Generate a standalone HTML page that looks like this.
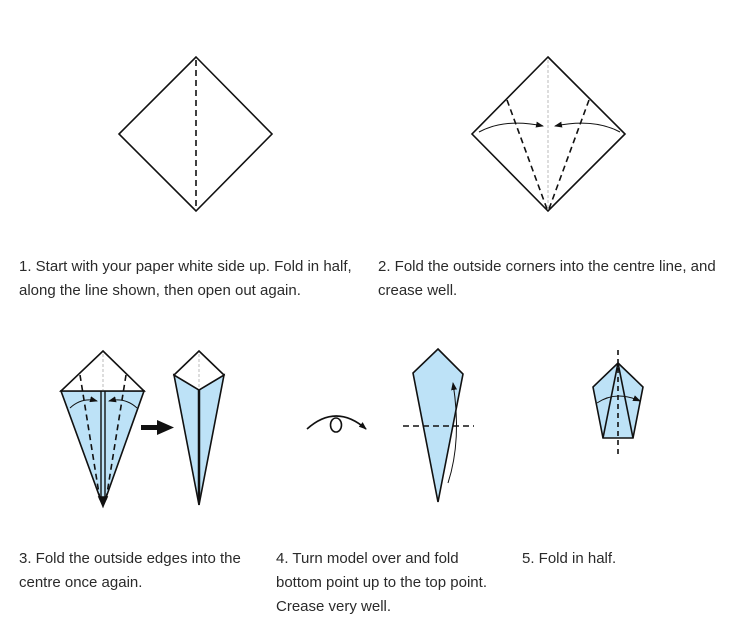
<!DOCTYPE html>
<html><head><meta charset="utf-8"><style>
body{margin:0;background:#fff;width:731px;height:636px;overflow:hidden;position:relative;font-family:"Liberation Sans",sans-serif}
.t{position:absolute;font-size:15px;line-height:24px;color:#2a2a2a;white-space:nowrap}
svg{position:absolute;left:0;top:0}
</style></head><body>
<svg width="731" height="636">
<defs><marker id="ah" markerWidth="8" markerHeight="6" refX="7" refY="3" orient="auto" markerUnits="userSpaceOnUse"><path d="M0,0 L8,3 L0,6 Z" fill="#111"/></marker></defs>
<g stroke="#111" stroke-width="1.6" fill="none">
<polygon points="196,57 272,134 196,211 119,134" fill="#fff"/>
<line x1="196" y1="60" x2="196" y2="209" stroke-dasharray="6,4"/>
</g>
<g stroke="#111" stroke-width="1.6" fill="none">
<polygon points="548,57 625,134 548,211 472,134" fill="#fff"/>
<line x1="548" y1="60" x2="548" y2="208" stroke="#bbb" stroke-dasharray="3,2" stroke-width="1"/>
<line x1="507" y1="100" x2="547" y2="209" stroke-dasharray="6,4"/>
<line x1="589" y1="100" x2="549" y2="209" stroke-dasharray="6,4"/>
<path d="M479,132 Q505,118 543,126" stroke-width="1" marker-end="url(#ah)"/>
<path d="M620,132 Q594,118 555,126" stroke-width="1" marker-end="url(#ah)"/>
</g>
<g stroke="#111" stroke-width="1.6">
<polygon points="61,391 144,391 103,506" fill="#bde2f7"/>
<polygon points="103,351 144,391 61,391" fill="#fff"/>
<line x1="103" y1="354" x2="103" y2="390" stroke="#bbb" stroke-dasharray="3,2" stroke-width="1"/>
<line x1="101" y1="391" x2="101" y2="498" stroke-width="1.4"/>
<line x1="105" y1="391" x2="105" y2="498" stroke-width="1.4"/>
<line x1="80" y1="375" x2="100" y2="500" stroke-dasharray="6,4" fill="none"/>
<line x1="126" y1="375" x2="106" y2="500" stroke-dasharray="6,4" fill="none"/>
<path d="M70,408 Q82,397 97,401" fill="none" stroke-width="1" marker-end="url(#ah)"/>
<path d="M137,408 Q125,397 109,401" fill="none" stroke-width="1" marker-end="url(#ah)"/>
<polygon points="99,497 107,497 103,506" fill="#111"/>
</g>
<g>
<rect x="141" y="425" width="18" height="5" fill="#111"/>
<polygon points="157,420 174,427.5 157,435" fill="#111"/>
</g>
<g stroke="#111" stroke-width="1.6">
<polygon points="174,375 199,390 199,505" fill="#bde2f7"/>
<polygon points="224,375 199,390 199,505" fill="#bde2f7"/>
<polygon points="199,351 224,375 199,390 174,375" fill="#fff"/>
<line x1="199" y1="354" x2="199" y2="388" stroke="#bbb" stroke-dasharray="3,2" stroke-width="1"/>
<line x1="199" y1="390" x2="199" y2="500" stroke-width="2.5"/>
</g>
<g stroke="#111" stroke-width="1.6" fill="none">
<path d="M307,429 Q336,403 366,429" marker-end="url(#ah)"/>
<ellipse cx="336" cy="425" rx="5.5" ry="7" fill="#fff"/>
</g>
<g stroke="#111" stroke-width="1.6">
<polygon points="438,349 463,374 438,502 413,373" fill="#bde2f7"/>
<line x1="403" y1="426" x2="474" y2="426" stroke-dasharray="6,4"/>
<path d="M448,483 Q462,440 453,383" fill="none" stroke-width="1" marker-end="url(#ah)"/>
</g>
<g stroke="#111" stroke-width="1.6">
<polygon points="618,363 643,387 633,438 603,438 593,387" fill="#bde2f7"/>
<line x1="618" y1="363" x2="603" y2="438"/>
<line x1="618" y1="363" x2="633" y2="438"/>
<line x1="618" y1="350" x2="618" y2="457" stroke-dasharray="5,4"/>
<path d="M597,403 Q616,390 640,401" fill="none" stroke-width="1" marker-end="url(#ah)"/>
</g>
</svg>
<div class="t" style="left:19px;top:255px">1. Start with your paper white side up. Fold in half,<br>along the line shown, then open out again.</div>
<div class="t" style="left:378px;top:255px">2. Fold the outside corners into the centre line, and<br>crease well.</div>
<div class="t" style="left:19px;top:547px">3. Fold the outside edges into the<br>centre once again.</div>
<div class="t" style="left:276px;top:547px">4. Turn model over and fold<br>bottom point up to the top point.<br>Crease very well.</div>
<div class="t" style="left:522px;top:547px">5. Fold in half.</div>
</body></html>
